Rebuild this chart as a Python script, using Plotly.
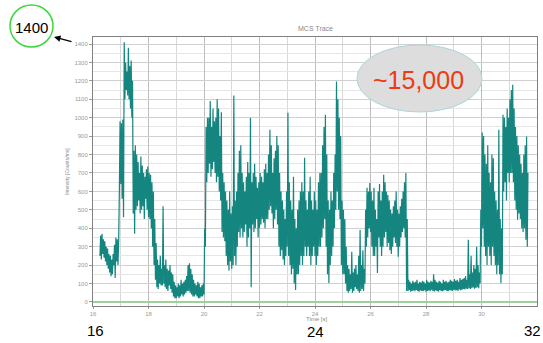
import plotly.graph_objects as go

# ---- data (envelope of the MCS trace, 0.05 s bins from 16.25 s) ----
t_start = 16.25
t_step = 0.05

intensity_hi = [
    360, 370, 340, 330, 300, 290, 260, 250, 230, 260, 310, 350, 340, 330,      # 16.25-16.90
    980, 970, 990,                                                              # 16.95-17.05
    1410, 1300, 1250, 1380, 1280, 1310, 1200,                                   # 17.10-17.40
    820, 850, 800, 760, 700, 790, 740, 700, 680, 720, 735, 700, 690,            # 17.45-18.05
    650, 600, 450, 320,                                                         # 18.10-18.25
    230, 200, 250, 180, 520, 200, 230, 180, 170, 200, 160, 150,                 # 18.30-18.85
    110, 90, 80, 100, 90, 120, 100, 110, 120, 140, 200, 210, 180, 150, 120,
    100, 90, 110, 100, 80, 90,                                                  # 18.90-19.90
    100, 400, 950,                                                              # 19.95-20.05
    1000, 1000, 1090, 950, 1050, 980, 1000, 1100, 1050, 900, 1030,              # 20.10-20.60
    700, 650, 600,                                                              # 20.65-20.75
    550, 500, 600, 480, 520, 1120,                                              # 20.80-21.05
    550, 600, 700, 820, 850,                                                    # 21.10-21.30
    700, 650, 600, 680, 760,                                                    # 21.35-21.55
    700, 1000, 650, 700, 750, 680, 620, 650,                                    # 21.60-21.95
    700, 680, 650, 720, 750, 700,                                               # 22.00-22.25
    800, 935, 850, 700, 780, 820, 900, 850,                                     # 22.30-22.65
    700, 600, 550, 500, 450, 600,                                               # 22.70-22.95
    1027,                                                                       # 23.00
    650, 550, 500, 680, 450, 400, 500,                                          # 23.05-23.35
    550, 600, 650, 600, 783, 550, 500,                                          # 23.40-23.70
    600, 680, 550, 500, 600, 550, 500, 650, 700,                                # 23.75-24.15
    700, 850, 950, 1016, 800,                                                   # 24.20-24.40
    550, 500, 600, 550, 700,                                                    # 24.45-24.65
    800, 1197, 1100, 1000, 900,                                                 # 24.70-24.90
    550, 500, 450, 300,                                                         # 24.95-25.10
    200, 180, 150, 272, 160, 180, 200, 150, 250, 391, 200, 280, 180,            # 25.15-25.75
    500, 620,                                                                   # 25.80-25.85
    600, 645, 600, 550, 620, 500, 450, 600, 640, 550, 600, 690,                 # 25.90-26.45
    650, 600, 580, 550, 500, 480, 520, 550, 600, 500, 480, 520, 560, 600,
    650, 700,                                                                   # 26.50-27.25
    450,                                                                        # 27.30
    120, 110, 100, 115, 105, 110, 120, 100, 110, 105,
    115, 110, 100, 120, 110, 105, 115, 110, 150, 120,
    110, 105, 115, 110, 100, 120, 110, 115, 105, 110,
    120, 115, 110, 125, 115, 120, 110, 130, 120, 125,
    130, 140, 120, 337, 150, 250, 160, 200, 180, 300,
    200, 160,                                                                   # 27.35-29.90
    500, 920, 900,                                                              # 29.95-30.05
    800, 750, 850, 700, 650, 800, 780, 600, 550, 500, 935, 450, 400,            # 30.10-30.70
    1016, 1000, 950, 1050, 1000, 1100, 1150,                                    # 30.75-31.05
    1179, 1050, 950, 900, 850, 800, 750, 700, 800, 850, 898, 700,               # 31.10-31.65
]

intensity_lo = [
    250, 230, 260, 240, 220, 200, 180, 160, 140, 150, 200, 130, 220, 200,
    600, 640, 560,
    460, 1100, 1150, 1120, 1100, 1050, 1000,
    480, 370, 500, 520, 550, 480, 500, 520, 450, 560, 500, 460, 450,
    400, 300, 200, 120,
    80, 70, 100, 90, 90, 100, 80, 70, 60, 90, 70, 50,
    30, 20, 20, 30, 20, 30, 40, 30, 40, 50, 60, 60, 50, 40, 30,
    30, 40, 30, 20, 20, 30,
    30, 40, 300,
    650, 700, 750, 680, 720, 760, 700, 650, 680, 600, 550,
    380, 350, 330,
    250, 200, 170, 220, 180, 200,
    250, 200, 300, 380, 350,
    400, 350, 380, 420, 300,
    350, 400, 80, 420, 380, 400, 450, 350,
    400, 420, 450, 430, 400, 450,
    450, 500, 520, 480, 400, 450, 500, 420,
    300, 250, 280, 230, 200, 250,
    300,
    250, 200, 150, 180, 100, 65, 150,
    150, 200, 250, 200, 250, 300, 250,
    300, 250, 200, 250, 300, 250, 200, 250, 300,
    300, 350, 400, 450, 300,
    150, 103, 200, 250, 300,
    400, 500, 600, 500, 450,
    200, 150, 150, 100,
    60, 50, 60, 70, 50, 60, 80, 70, 60, 50, 60, 70, 60,
    100, 300,
    350, 400, 380, 300, 250, 250, 300, 157, 350, 300, 250, 300,
    350, 380, 300, 320, 280, 260, 300, 350, 320, 300, 246, 300, 350, 380,
    400, 350,
    60,
    60, 65, 55, 60, 62, 58, 65, 60, 55, 62,
    60, 58, 64, 56, 60, 62, 58, 66, 60, 57,
    62, 60, 56, 64, 60, 58, 62, 65, 60, 58,
    64, 62, 60, 66, 62, 64, 60, 68, 64, 66,
    70, 68, 72, 70, 75, 70, 74, 78, 72, 76,
    80, 75,
    100, 300, 400,
    300, 250, 200, 300, 250, 200, 300, 250, 200, 150, 200, 150, 103,
    150, 600, 650, 550, 700, 650, 700,
    700, 650, 550, 500, 446, 480, 450, 400, 380, 400, 337, 300,
]

x_tick_vals = [16, 18, 20, 22, 24, 26, 28, 30]
y_tick_vals = list(range(0, 1401, 100))

# ---- build zig-zag trace from envelope ----
xs, ys = [], []
for i, (lo, hi) in enumerate(zip(intensity_lo, intensity_hi)):
    t = t_start + i * t_step
    xs += [t, t + t_step / 2]
    ys += [lo, hi]

fig = go.Figure()
fig.add_trace(go.Scatter(x=xs, y=ys, mode="lines",
                         line=dict(color="#15857f", width=1.2), hoverinfo="skip",
                         showlegend=False))

# zero baseline (green)
fig.add_shape(type="line", xref="paper", yref="y", x0=0, x1=1, y0=0, y1=0,
              line=dict(color="#9fd19a", width=2))

axis_font = dict(family="Liberation Sans, Arial, sans-serif", size=6, color="#9a9a9a")

L, T, PW, PH = 93, 37, 444, 269


def px(x):
    return (x - L) / PW


def py(y):
    return (T + PH - y) / PH


fig.update_layout(
    width=543, height=343,
    margin=dict(l=L, r=543 - L - PW, t=T, b=343 - T - PH),
    paper_bgcolor="white", plot_bgcolor="white",
    xaxis=dict(range=[16, 32], tickvals=x_tick_vals, showgrid=True,
               gridcolor="#bdbdbd", gridwidth=1,
               minor=dict(dtick=1, showgrid=True, gridcolor="#d8d8d8", ticks=""),
               showline=True, mirror=True, linecolor="#808080", linewidth=1,
               ticks="outside", ticklen=2, tickcolor="#999999",
               tickfont=axis_font, zeroline=False),
    yaxis=dict(range=[-22, 1438], tickvals=y_tick_vals, showgrid=True,
               gridcolor="#d0d0d0", gridwidth=1,
               minor=dict(dtick=50, showgrid=True, gridcolor="#e6e6e6", ticks=""),
               showline=True, mirror=True, linecolor="#808080", linewidth=1,
               ticks="outside", ticklen=3, tickcolor="#999999",
               tickfont=axis_font, zeroline=False),
    showlegend=False,
)

F = "Liberation Sans, Arial"
annos = [
    dict(text="MCS Trace", x=px(315), y=py(29), font=dict(family=F, size=7, color="#8a8a8a")),
    dict(text="Time [s]", x=px(316), y=py(319), font=dict(family=F, size=6, color="#8a8a8a")),
    dict(text="Intensity [Counts/ms]", x=px(67), y=py(172), textangle=-90,
         font=dict(family=F, size=5, color="#8a8a8a")),
    dict(text="16", x=px(95), y=py(330), font=dict(family=F, size=15, color="black")),
    dict(text="24", x=px(315), y=py(331), font=dict(family=F, size=15, color="black")),
    dict(text="32", x=px(532), y=py(330), font=dict(family=F, size=15, color="black")),
    dict(text="1400", x=px(31.5), y=py(27), font=dict(family=F, size=15, color="black")),
    dict(text="~15,000", x=px(418), y=py(80), font=dict(family=F, size=25, color="#ec3b12")),
]
for a in annos:
    a.update(xref="paper", yref="paper", showarrow=False, xanchor="center", yanchor="middle")
annos.append(dict(text="", x=px(54), y=py(37), xref="paper", yref="paper",
                  showarrow=True, ax=19, ay=5, arrowhead=2, arrowsize=1, arrowwidth=1.3,
                  arrowcolor="black", standoff=0))
fig.update_layout(annotations=annos)

shapes = [
    dict(type="circle", xref="paper", yref="paper",
         x0=px(10), x1=px(53), y0=py(47), y1=py(5),
         line=dict(color="#3ad83a", width=1.5), fillcolor="white", layer="below"),
    dict(type="circle", xref="paper", yref="paper",
         x0=px(357), x1=px(482), y0=py(112), y1=py(45),
         line=dict(color="#a9d6dc", width=1), fillcolor="#dddddd", layer="above"),
]
for s in shapes:
    fig.add_shape(**s)

fig.write_html("out.html", config={"displayModeBar": False},
               post_script="document.body.style.margin='0';")
